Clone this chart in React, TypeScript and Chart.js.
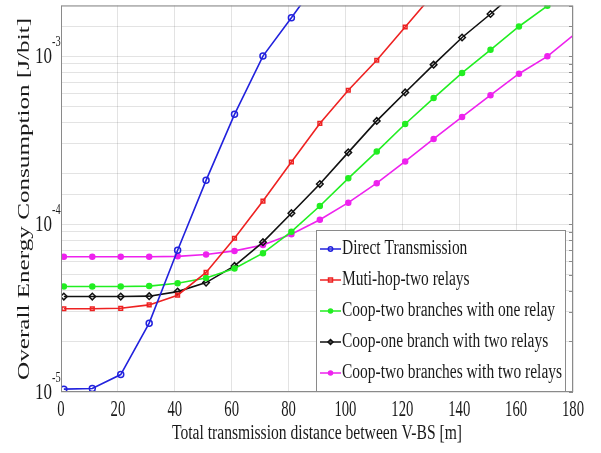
import React, { useEffect, useRef } from 'react';
import { Chart, registerables } from 'chart.js';

Chart.register(...registerables);

// ---------------- data ----------------
const xValues = [1, 11, 21, 31, 41, 51, 61, 71, 81, 91, 101, 111, 121, 131, 141, 151, 161, 171, 181];

const directTransmission = [1.04e-5, 1.05e-5, 1.27e-5, 2.57e-5, 6.98e-5, 1.82e-4, 4.5e-4, 1.0e-3, 1.69e-3, 2.9e-3];
const multiHopTwoRelays = [3.13e-5, 3.13e-5, 3.15e-5, 3.3e-5, 3.77e-5, 5.15e-5, 8.23e-5, 1.37e-4, 2.34e-4, 3.97e-4, 6.26e-4, 9.44e-4, 1.49e-3, 2.35e-3];
const coopTwoBranchesOneRelay = [4.25e-5, 4.25e-5, 4.25e-5, 4.27e-5, 4.44e-5, 4.77e-5, 5.44e-5, 6.71e-5, 9.0e-5, 1.28e-4, 1.87e-4, 2.7e-4, 3.94e-4, 5.62e-4, 7.93e-4, 1.09e-3, 1.5e-3, 1.99e-3];
const coopOneBranchTwoRelays = [3.7e-5, 3.7e-5, 3.7e-5, 3.72e-5, 3.96e-5, 4.48e-5, 5.63e-5, 7.8e-5, 1.16e-4, 1.73e-4, 2.67e-4, 4.11e-4, 6.07e-4, 8.89e-4, 1.29e-3, 1.78e-3, 2.5e-3];
const coopTwoBranchesTwoRelays = [6.38e-5, 6.38e-5, 6.38e-5, 6.39e-5, 6.42e-5, 6.58e-5, 6.92e-5, 7.51e-5, 8.69e-5, 1.06e-4, 1.34e-4, 1.75e-4, 2.36e-4, 3.21e-4, 4.34e-4, 5.85e-4, 7.85e-4, 9.96e-4, 1.37e-3];

const seriesLabels = [
  'Direct Transmission',
  'Muti-hop-two relays',
  'Coop-two branches with one relay',
  'Coop-one branch with two relays',
  'Coop-two branches with two relays',
];

const xTickValues = [0, 20, 40, 60, 80, 100, 120, 140, 160, 180];
const yTickValues = [1e-5, 1e-4, 1e-3];
const yTickBase = '10';
const yTickExponents = ['-5', '-4', '-3'];

const xTitle = 'Total transmission distance between V-BS [m]';
const yTitle = 'Overall Energy Consumption [J/bit]';

// ---------------- styles ----------------
const colors = ['#2222dd', '#ee2222', '#22ee22', '#111111', '#ee22ee'];
const markers = ['circle', 'rect', 'circle', 'rectRot', 'circle'];
const markerRadius = [3, 2.6, 2.5, 3.3, 2.5];
const markerFilled = [false, false, true, false, true];
const FONT = '"Liberation Serif", "Times New Roman", serif';

function drawText(
  ctx: CanvasRenderingContext2D,
  text: string,
  x: number,
  y: number,
  size: number,
  sx: number,
  align: CanvasTextAlign,
  color = '#1a1a1a'
) {
  ctx.save();
  ctx.font = `${size}px ${FONT}`;
  ctx.fillStyle = color;
  ctx.textAlign = align;
  ctx.textBaseline = 'middle';
  ctx.translate(x, y);
  ctx.scale(sx, 1);
  ctx.fillText(text, 0, 0);
  ctx.restore();
}

function drawMarker(ctx: CanvasRenderingContext2D, style: string, x: number, y: number, r: number, color: string, filled: boolean) {
  ctx.save();
  ctx.strokeStyle = color;
  ctx.fillStyle = color;
  ctx.lineWidth = 1.5;
  ctx.beginPath();
  if (style === 'circle') {
    ctx.arc(x, y, r, 0, Math.PI * 2);
  } else if (style === 'rect') {
    ctx.rect(x - r, y - r, 2 * r, 2 * r);
  } else {
    ctx.moveTo(x, y - r);
    ctx.lineTo(x + r, y);
    ctx.lineTo(x, y + r);
    ctx.lineTo(x - r, y);
    ctx.closePath();
  }
  if (filled) ctx.fill();
  ctx.stroke();
  ctx.restore();
}

const customPlugin = {
  id: 'customDecor',
  afterDraw(chart: any) {
    const ctx: CanvasRenderingContext2D = chart.ctx;
    const area = chart.chartArea;
    const xs = chart.scales.x;
    const ys = chart.scales.y;

    // box
    ctx.save();
    ctx.strokeStyle = '#8a8a8a';
    ctx.lineWidth = 1;
    ctx.strokeRect(area.left + 0.5, area.top + 0.5, area.right - area.left - 1, area.bottom - area.top - 1);
    ys.ticks.forEach((t: any) => {
      const py = Math.round(ys.getPixelForValue(t.value)) + 0.5;
      ctx.beginPath();
      ctx.moveTo(area.right - 4, py);
      ctx.lineTo(area.right, py);
      ctx.stroke();
    });
    ctx.restore();

    // x tick labels
    xTickValues.forEach((v) => {
      drawText(ctx, String(v), xs.getPixelForValue(v), 410, 23, 0.64, 'center');
    });

    // y tick labels
    yTickValues.forEach((v, i) => {
      const py = ys.getPixelForValue(v);
      drawText(ctx, yTickBase, 52, py + 1, 23, 0.74, 'right');
      drawText(ctx, yTickExponents[i], 52, py - 14, 14, 0.74, 'left');
    });

    // x title
    ctx.save();
    ctx.font = `20px ${FONT}`;
    const wx = ctx.measureText(xTitle).width;
    ctx.restore();
    drawText(ctx, xTitle, 317, 434, 20, 290 / wx, 'center');

    // y title
    ctx.save();
    ctx.font = `23px ${FONT}`;
    const wy = ctx.measureText(yTitle).width;
    ctx.fillStyle = '#1a1a1a';
    ctx.textAlign = 'center';
    ctx.textBaseline = 'middle';
    ctx.translate(25, 199);
    ctx.rotate(-Math.PI / 2);
    ctx.scale(362 / wy, 0.7);
    ctx.fillText(yTitle, 0, 0);
    ctx.restore();

    // legend
    const lx0 = 316, ly0 = 230, lx1 = 566, ly1 = 392;
    ctx.save();
    ctx.fillStyle = '#ffffff';
    ctx.fillRect(lx0, ly0, lx1 - lx0, ly1 - ly0);
    ctx.strokeStyle = '#8a8a8a';
    ctx.lineWidth = 1;
    ctx.strokeRect(lx0 + 0.5, ly0 + 0.5, lx1 - lx0 - 1, ly1 - ly0 - 1);
    ctx.font = `20px ${FONT}`;
    let maxW = 0;
    seriesLabels.forEach((s) => { maxW = Math.max(maxW, ctx.measureText(s).width); });
    ctx.restore();
    const lsx = 220 / maxW;
    const rowY = [249, 280, 311, 342, 373];
    seriesLabels.forEach((s, i) => {
      const y = rowY[i];
      ctx.save();
      ctx.strokeStyle = colors[i];
      ctx.lineWidth = 1.5;
      ctx.beginPath();
      ctx.moveTo(320, y);
      ctx.lineTo(341, y);
      ctx.stroke();
      ctx.restore();
      drawMarker(ctx, markers[i], 330.5, y, Math.max(2, markerRadius[i] - 0.8), colors[i], markerFilled[i]);
      drawText(ctx, s, 342, y, 20, lsx, 'left', '#1a1a1a');
    });
  },
};

const seriesData = [
  directTransmission,
  multiHopTwoRelays,
  coopTwoBranchesOneRelay,
  coopOneBranchTwoRelays,
  coopTwoBranchesTwoRelays,
];

export default function App() {
  const canvasRef = useRef<HTMLCanvasElement | null>(null);

  useEffect(() => {
    if (!canvasRef.current) return;
    const datasets = seriesData.map((vals, i) => ({
      label: seriesLabels[i],
      data: vals.map((v, j) => ({ x: xValues[j], y: v })),
      borderColor: colors[i],
      backgroundColor: markerFilled[i] ? colors[i] : 'rgba(0,0,0,0)',
      borderWidth: 1.6,
      pointStyle: markers[i] as any,
      pointRadius: markerRadius[i],
      pointBorderWidth: 1.5,
      pointBorderColor: colors[i],
      pointBackgroundColor: markerFilled[i] ? colors[i] : 'rgba(0,0,0,0)',
      tension: 0,
      fill: false,
    }));

    const chart = new Chart(canvasRef.current, {
      type: 'line',
      data: { datasets },
      options: {
        animation: false,
        responsive: false,
        maintainAspectRatio: false,
        layout: { padding: { left: 0, right: 28, top: 4, bottom: 0 } },
        plugins: {
          legend: { display: false },
          tooltip: { enabled: false },
        },
        scales: {
          x: {
            type: 'linear',
            min: 0,
            max: 180,
            ticks: { display: false, stepSize: 20, autoSkip: false },
            grid: { color: 'rgba(0,0,0,0.11)', drawTicks: false, lineWidth: 1 },
            border: { display: false },
            afterFit: (scale: any) => { scale.height = 61; },
          },
          y: {
            type: 'logarithmic',
            min: 1e-5,
            max: 2e-3,
            ticks: { display: false, autoSkip: false },
            grid: { color: 'rgba(0,0,0,0.11)', drawTicks: false, lineWidth: 1 },
            border: { display: false },
            afterFit: (scale: any) => { scale.width = 61; },
          },
        },
      },
      plugins: [customPlugin],
    });
    return () => chart.destroy();
  }, []);

  return (
    <div style={{ position: 'absolute', left: 0, top: 0, width: 601, height: 453, background: '#fff' }}>
      <canvas ref={canvasRef} width={601} height={453} />
    </div>
  );
}
